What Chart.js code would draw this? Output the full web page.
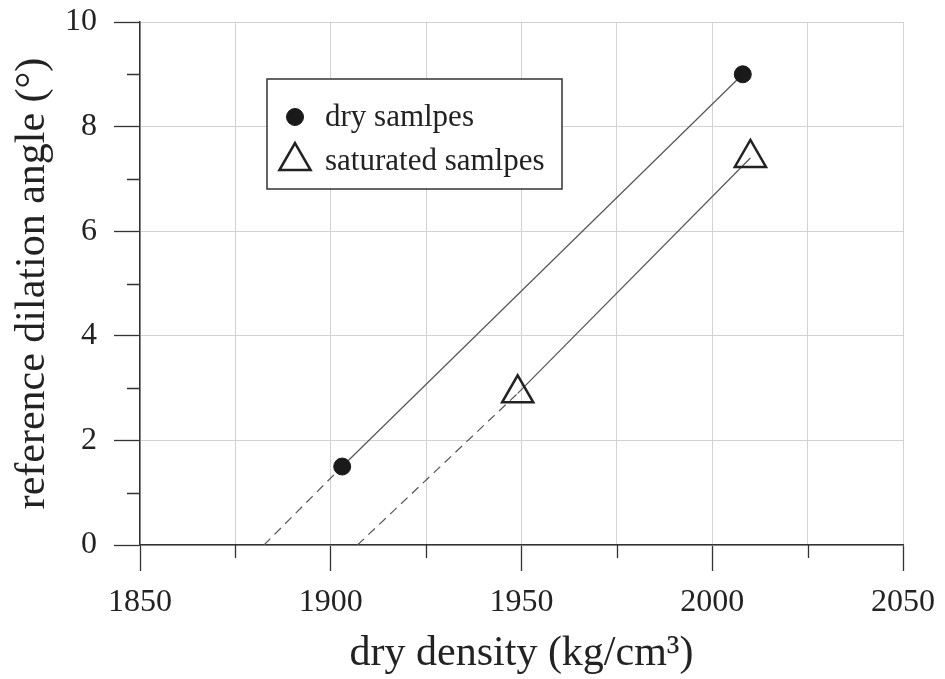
<!DOCTYPE html>
<html>
<head>
<meta charset="utf-8">
<script src="https://cdn.jsdelivr.net/npm/chart.js@4.4.1/dist/chart.umd.min.js"></script>
<style>
  html, body { margin: 0; padding: 0; background: #fff; }
  #wrap { width: 945px; height: 679px; }
</style>
</head>
<body>
<div id="wrap"><canvas id="dilationChart" width="945" height="679"></canvas></div>
<script>
// measured samples
var dryDensity = [1903, 2008];
var dryAngle = [1.5, 9.0];
var satDensity = [1949, 2010];
var satAngle = [2.9, 7.4];
// dashed extrapolation down to zero angle
var dryExtDensity = [1882.5, 1903];
var dryExtAngle = [0, 1.5];
var satExtDensity = [1907, 1949];
var satExtAngle = [0, 2.9];

var seriesNames = ['dry samlpes', 'saturated samlpes'];
var xLabelValues = [1850, 1900, 1950, 2000, 2050];
var yLabelValues = [0, 2, 4, 6, 8, 10];

var serif = '"Liberation Serif", "DejaVu Serif", serif';
var inkColor = '#222';

function pts(xs, ys) {
    return xs.map(function (x, i) { return {x: x, y: ys[i]}; });
}

// short ticks for the unlabelled steps
var minorTicks = {
    id: 'minorTicks',
    afterDraw: function (chart) {
        var ctx = chart.ctx, area = chart.chartArea;
        var xs = chart.scales.x, ys = chart.scales.y;
        ctx.save();
        ctx.strokeStyle = '#333';
        ctx.lineWidth = 1.3;
        ctx.beginPath();
        xs.ticks.forEach(function (t) {
            if (xLabelValues.indexOf(t.value) < 0) {
                var px = Math.round(xs.getPixelForValue(t.value)) + 0.5;
                ctx.moveTo(px, area.bottom);
                ctx.lineTo(px, area.bottom + 13);
            }
        });
        ys.ticks.forEach(function (t) {
            if (yLabelValues.indexOf(t.value) < 0) {
                var py = Math.round(ys.getPixelForValue(t.value)) + 0.5;
                ctx.moveTo(area.left - 13, py);
                ctx.lineTo(area.left, py);
            }
        });
        ctx.stroke();
        ctx.restore();
    }
};

// boxed legend inside the plot
var boxLegend = {
    id: 'boxLegend',
    afterDraw: function (chart, args, opts) {
        var ctx = chart.ctx;
        ctx.save();
        ctx.fillStyle = '#fff';
        ctx.fillRect(opts.left, opts.top, opts.width, opts.height);
        ctx.strokeStyle = '#333';
        ctx.lineWidth = 1.5;
        ctx.strokeRect(opts.left, opts.top, opts.width, opts.height);
        ctx.font = opts.fontSize + 'px ' + serif;
        ctx.textBaseline = 'alphabetic';
        chart.data.datasets.forEach(function (ds) {
            if (!ds.inLegend) return;
            var row = seriesNames.indexOf(ds.label);
            var cy = opts.top + opts.firstRow + row * opts.rowGap;
            ctx.fillStyle = ds.backgroundColor;
            ctx.strokeStyle = ds.borderColor;
            ctx.lineWidth = ds.borderWidth;
            Chart.helpers.drawPoint(ctx, {
                pointStyle: ds.pointStyle,
                radius: ds.pointRadius,
                rotation: 0,
                borderWidth: ds.borderWidth
            }, opts.left + opts.iconX, cy);
            ctx.fillStyle = inkColor;
            ctx.fillText(ds.label, opts.left + opts.textX, cy + opts.baseline);
        });
        ctx.restore();
    }
};

var ctx = document.getElementById('dilationChart').getContext('2d');
new Chart(ctx, {
    type: 'scatter',
    data: {
        datasets: [
            {
                label: seriesNames[0], inLegend: true,
                data: pts(dryDensity, dryAngle),
                pointStyle: 'circle', pointRadius: 8.5,
                backgroundColor: '#1a1a1a', borderColor: '#1a1a1a', borderWidth: 1
            },
            {
                label: seriesNames[1], inLegend: true,
                data: pts(satDensity, satAngle),
                pointStyle: 'triangle', pointRadius: 18,
                backgroundColor: 'rgba(255,255,255,0)', borderColor: '#222', borderWidth: 2.5
            },
            {
                label: 'dry fit', data: pts(dryDensity, dryAngle), showLine: true,
                pointRadius: 0, borderColor: '#555', borderWidth: 1.2
            },
            {
                label: 'dry extrapolation', data: pts(dryExtDensity, dryExtAngle), showLine: true,
                pointRadius: 0, borderColor: '#555', borderWidth: 1.2, borderDash: [9, 6]
            },
            {
                label: 'saturated fit', data: pts(satDensity, satAngle), showLine: true,
                pointRadius: 0, borderColor: '#555', borderWidth: 1.2
            },
            {
                label: 'saturated extrapolation', data: pts(satExtDensity, satExtAngle), showLine: true,
                pointRadius: 0, borderColor: '#555', borderWidth: 1.2, borderDash: [9, 6]
            }
        ]
    },
    options: {
        responsive: false,
        animation: false,
        layout: {padding: {top: 22, right: 42, left: 0, bottom: 0}},
        plugins: {
            legend: {display: false},
            tooltip: {enabled: false},
            boxLegend: {
                left: 267, top: 79, width: 295, height: 110,
                iconX: 28, textX: 58, firstRow: 38, rowGap: 44, baseline: 9, fontSize: 31
            }
        },
        scales: {
            x: {
                type: 'linear', min: 1850, max: 2050,
                afterFit: function (s) {
                    s.height = 134;
                    s.paddingLeft = 0;
                    s.paddingRight = 0;
                },
                ticks: {
                    stepSize: 25, autoSkip: false, maxRotation: 0, padding: 16,
                    color: inkColor, font: {family: serif, size: 32, lineHeight: 1},
                    callback: function (v) { return xLabelValues.indexOf(v) >= 0 ? String(v) : ''; }
                },
                grid: {
                    color: '#d2d2d2', lineWidth: 1, tickLength: 26, tickWidth: 1.3,
                    tickColor: function (c) {
                        return c.tick && xLabelValues.indexOf(c.tick.value) >= 0 ? '#333' : 'rgba(0,0,0,0)';
                    }
                },
                border: {color: '#333', width: 1.5},
                title: {
                    display: true, text: 'dry density (kg/cm³)', color: inkColor,
                    font: {family: serif, size: 42, lineHeight: 1}, padding: {top: 0, bottom: 4}
                }
            },
            y: {
                min: 0, max: 10,
                afterFit: function (s) {
                    s.width = 140;
                    s.paddingTop = 0;
                    s.paddingBottom = 0;
                },
                ticks: {
                    stepSize: 1, autoSkip: false, padding: 17,
                    color: inkColor, font: {family: serif, size: 32, lineHeight: 1},
                    callback: function (v) { return yLabelValues.indexOf(v) >= 0 ? String(v) : ''; }
                },
                grid: {
                    lineWidth: 1, tickLength: 26, tickWidth: 1.3,
                    color: function (c) {
                        return c.tick && yLabelValues.indexOf(c.tick.value) >= 0 ? '#d2d2d2' : 'rgba(0,0,0,0)';
                    },
                    tickColor: function (c) {
                        return c.tick && yLabelValues.indexOf(c.tick.value) >= 0 ? '#333' : 'rgba(0,0,0,0)';
                    }
                },
                border: {color: '#333', width: 1.5},
                title: {
                    display: true, text: 'reference dilation angle (°)', color: inkColor,
                    font: {family: serif, size: 42, lineHeight: 1}, padding: {top: 12, bottom: 0}
                }
            }
        }
    },
    plugins: [minorTicks, boxLegend]
});
</script>
</body>
</html>
